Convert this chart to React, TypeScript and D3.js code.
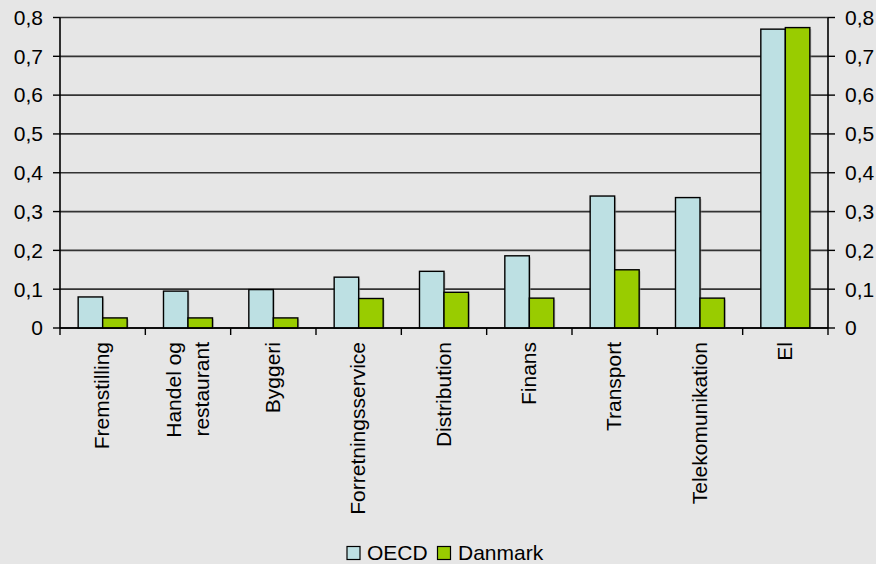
import React from "react";
import * as d3 from "d3";

const categories: string[][] = [
  ["Fremstilling"],
  ["Handel og", "restaurant"],
  ["Byggeri"],
  ["Forretningsservice"],
  ["Distribution"],
  ["Finans"],
  ["Transport"],
  ["Telekomunikation"],
  ["El"],
];
const seriesNames = ["OECD", "Danmark"];
const oecdValues = [0.08, 0.095, 0.099, 0.131, 0.146, 0.186, 0.34, 0.336, 0.77];
const danmarkValues = [0.026, 0.026, 0.026, 0.076, 0.092, 0.077, 0.15, 0.077, 0.774];
const yTicks = [0, 0.1, 0.2, 0.3, 0.4, 0.5, 0.6, 0.7, 0.8];
const colors = ["#bde0e3", "#99cc00"];

const W = 876;
const H = 564;
const FONT = "'Liberation Sans', Arial, sans-serif";
const FS = 21;

export default function App() {
  const left = 60;
  const right = 828;
  const top = 17.5;
  const bottom = 328;

  const keys = categories.map((c) => c.join(" "));
  const x = d3.scaleBand<string>().domain(keys).range([left, right]).padding(0);
  const x1 = d3
    .scaleBand<string>()
    .domain(seriesNames)
    .range([0, x.bandwidth()])
    .paddingInner(0)
    .paddingOuter(0.741);
  const y = d3.scaleLinear().domain([0, 0.8]).range([bottom, top]);
  const loc = d3.formatLocale({ decimal: ",", thousands: ".", grouping: [3], currency: ["", " kr."] });
  const fmt = loc.format(".1f");
  const label = (v: number) => (v === 0 ? "0" : fmt(v));
  const data = [oecdValues, danmarkValues];
  const bandEdges = keys.map((k) => x(k) as number).concat([right]);

  return (
    <svg
      width={W}
      height={H}
      style={{ position: "absolute", left: 0, top: 0 }}
      fontFamily={FONT}
    >
      <rect x={0} y={0} width={W} height={H} fill="#e6e6e6" />
      {/* gridlines */}
      {yTicks.map((t) => (
        <line
          key={"g" + t}
          x1={left}
          x2={right}
          y1={y(t)}
          y2={y(t)}
          stroke={t === 0 ? "#000" : "#333"}
          strokeWidth={1.7}
        />
      ))}
      {/* bars */}
      {keys.map((k, i) =>
        seriesNames.map((s, j) => {
          const v = data[j][i];
          const bx = (x(k) as number) + (x1(s) as number);
          return (
            <g key={k + s}>
              <rect
                x={bx + 1.5}
                y={y(v) + 1.5}
                width={x1.bandwidth()}
                height={bottom - y(v) - 1.5}
                fill="#9a9a9a"
                opacity={0.5}
              />
              <rect
                x={bx}
                y={y(v)}
                width={x1.bandwidth()}
                height={bottom - y(v)}
                fill={colors[j]}
                stroke="#000"
                strokeWidth={1.4}
              />
            </g>
          );
        })
      )}
      {/* axes */}
      <line x1={left} x2={left} y1={top} y2={bottom} stroke="#000" strokeWidth={1.6} />
      <line x1={right} x2={right} y1={top} y2={bottom} stroke="#000" strokeWidth={1.6} />
      <line x1={left} x2={right} y1={bottom} y2={bottom} stroke="#000" strokeWidth={1.6} />
      {yTicks.map((t) => (
        <g key={"t" + t}>
          <line x1={left - 7} x2={left} y1={y(t)} y2={y(t)} stroke="#000" strokeWidth={1.4} />
          <line x1={right} x2={right + 7} y1={y(t)} y2={y(t)} stroke="#000" strokeWidth={1.4} />
          <text x={43} y={y(t)} dy="0.35em" textAnchor="end" fontSize={FS} fill="#000">
            {label(t)}
          </text>
          <text x={845} y={y(t)} dy="0.35em" textAnchor="start" fontSize={FS} fill="#000">
            {label(t)}
          </text>
        </g>
      ))}
      {bandEdges.map((e, i) => (
        <line key={"bt" + i} x1={e} x2={e} y1={bottom} y2={bottom + 7} stroke="#000" strokeWidth={1.4} />
      ))}
      {/* category labels */}
      {categories.map((lines, i) => {
        const cx = (x(keys[i]) as number) + x.bandwidth() / 2;
        const n = lines.length;
        return (
          <g key={"cl" + i} transform={`translate(${cx},342) rotate(-90)`}>
            {lines.map((ln, li) => (
              <text
                key={li}
                x={0}
                y={6.5 + (li - (n - 1) / 2) * 28}
                textAnchor="end"
                fontSize={FS}
                fill="#000"
              >
                {ln}
              </text>
            ))}
          </g>
        );
      })}
      {/* legend */}
      <g>
        <rect x={347} y={546.5} width={13} height={13} fill={colors[0]} stroke="#000" strokeWidth={1.2} />
        <text x={367} y={560} fontSize={FS} fill="#000">
          {seriesNames[0]}
        </text>
        <rect x={437.5} y={546.5} width={13} height={13} fill={colors[1]} stroke="#000" strokeWidth={1.2} />
        <text x={458} y={560} fontSize={FS} fill="#000">
          {seriesNames[1]}
        </text>
      </g>
    </svg>
  );
}
